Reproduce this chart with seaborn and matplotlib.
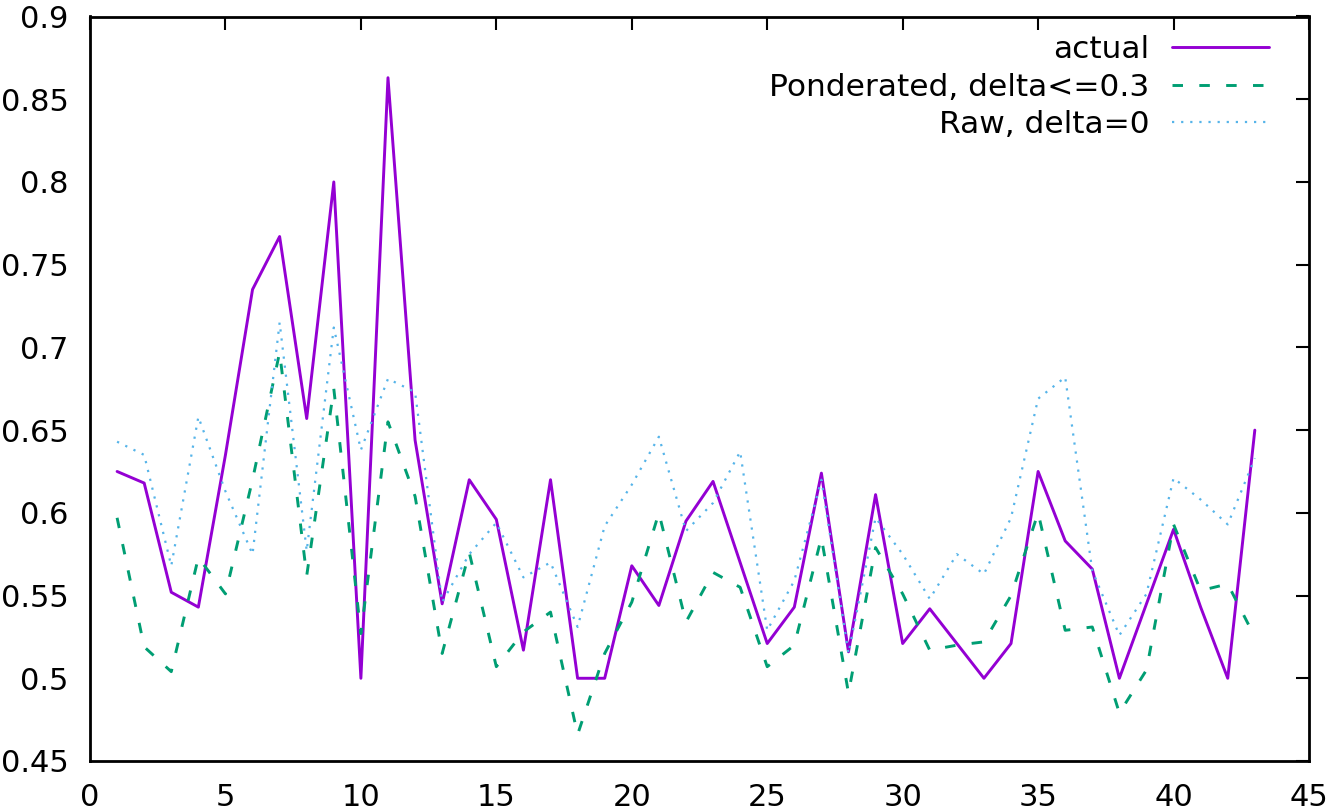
import numpy as np
import pandas as pd
import matplotlib
matplotlib.use("Agg")
import matplotlib.pyplot as plt
import seaborn as sns
from matplotlib.ticker import FuncFormatter

# values
steps = list(range(1, 44))
actual = [0.625, 0.618, 0.552, 0.543, 0.635, 0.735, 0.767, 0.657, 0.800, 0.500,
          0.863, 0.644, 0.545, 0.620, 0.596, 0.517, 0.620, 0.500, 0.500, 0.568,
          0.544, 0.595, 0.619, 0.570, 0.521, 0.543, 0.624, 0.516, 0.611, 0.521,
          0.542, 0.521, 0.500, 0.521, 0.625, 0.583, 0.566, 0.500, 0.545, 0.590,
          0.543, 0.500, 0.650]
ponderated = [0.597, 0.519, 0.504, 0.573, 0.551, 0.620, 0.697, 0.562, 0.675, 0.527,
              0.655, 0.610, 0.515, 0.576, 0.507, 0.528, 0.540, 0.466, 0.515, 0.546,
              0.600, 0.534, 0.564, 0.555, 0.507, 0.520, 0.585, 0.491, 0.579, 0.551,
              0.517, 0.520, 0.522, 0.550, 0.600, 0.529, 0.531, 0.479, 0.505, 0.593,
              0.553, 0.557, 0.525]
raw = [0.643, 0.635, 0.568, 0.658, 0.613, 0.575, 0.715, 0.577, 0.712, 0.638,
       0.681, 0.673, 0.546, 0.575, 0.594, 0.561, 0.570, 0.531, 0.592, 0.617,
       0.646, 0.589, 0.606, 0.637, 0.529, 0.559, 0.620, 0.515, 0.597, 0.575,
       0.548, 0.575, 0.563, 0.597, 0.669, 0.682, 0.565, 0.526, 0.551, 0.621,
       0.608, 0.593, 0.633]
labels = ['actual', 'Ponderated, delta<=0.3', 'Raw, delta=0']
x_ticks = [0, 5, 10, 15, 20, 25, 30, 35, 40, 45]
y_ticks = [0.45, 0.5, 0.55, 0.6, 0.65, 0.7, 0.75, 0.8, 0.85, 0.9]

sns.set_style("white")
plt.rcParams['font.family'] = ['DejaVu Sans']
plt.rcParams['font.size'] = 22
plt.rcParams['text.color'] = 'black'

fig = plt.figure(figsize=(13.35, 8.11), dpi=100)
ax = fig.add_axes([90 / 1335, 1 - 761 / 811, 1219 / 1335, 744.5 / 811])

sns.lineplot(x=steps, y=actual, ax=ax, color='#9400D3', linewidth=2.1,
             label=labels[0])
sns.lineplot(x=steps, y=ponderated, ax=ax, color='#009E73', linewidth=2.1,
             linestyle=(0, (3.6, 5.6)), label=labels[1])
sns.lineplot(x=steps, y=raw, ax=ax, color='#56B4E9', linewidth=1.6,
             linestyle=(0, (1, 3.1)), label=labels[2])

ax.set_xlim(0, 45)
ax.set_ylim(0.45, 0.9)
ax.set_xticks(x_ticks)
ax.set_yticks(y_ticks)
ax.yaxis.set_major_formatter(FuncFormatter(lambda v, p: f'{v:g}'))
ax.tick_params(direction='in', length=9.5, width=1.5, top=True, right=True,
               labelsize=22, colors='black')
ax.tick_params(axis='y', pad=15.5)
ax.tick_params(axis='x', pad=16)
for s in ax.spines.values():
    s.set_linewidth(2.0)
    s.set_color('black')
ax.set_xlabel('')
ax.set_ylabel('')

ax.legend(loc='upper right', bbox_to_anchor=(0.967, 0.975), frameon=False,
          markerfirst=False, fontsize=22.5, handlelength=3.1, handletextpad=0.72,
          labelspacing=0.27, borderpad=0, borderaxespad=0)

fig.savefig('out.png', dpi=100)
